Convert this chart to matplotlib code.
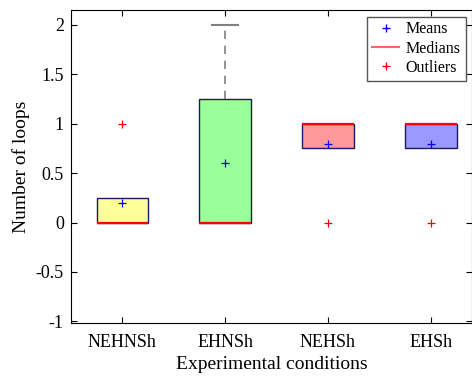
import matplotlib.pyplot as plt
from matplotlib.lines import Line2D

plt.rcParams['font.family'] = ['Liberation Serif', 'DejaVu Serif']

condicoes = ['NEHNSh', 'EHNSh', 'NEHSh', 'EHSh']
q1 = [0, 0, 0.75, 0.75]
q3 = [0.25, 1.25, 1, 1]
medianas = [0, 0, 1, 1]
medias = [0.2, 0.6, 0.8, 0.8]
whis_lo = [0, 0, 0.75, 0.75]
whis_hi = [0.25, 2, 1, 1]
outliers = [[1], [], [0], [0]]
cores = ['#ffff99', '#99ff99', '#ff9999', '#9999ff']

stats = []
for i in range(len(condicoes)):
    stats.append({'label': condicoes[i], 'q1': q1[i], 'q3': q3[i], 'med': medianas[i],
                  'mean': medias[i], 'whislo': whis_lo[i], 'whishi': whis_hi[i],
                  'fliers': outliers[i]})

fig, ax = plt.subplots(figsize=(4.72, 3.76), dpi=100)
fig.subplots_adjust(left=0.15, right=1.0, top=0.973, bottom=0.14)

bp = ax.bxp(stats, widths=0.5, patch_artist=True, showmeans=True,
            boxprops=dict(edgecolor='#1a1a60', linewidth=1.0),
            medianprops=dict(color='red', linewidth=1.6),
            meanprops=dict(marker='+', color='blue', markeredgecolor='blue', markersize=6, markeredgewidth=0.9),
            whiskerprops=dict(color='#808080', linestyle=(0, (5, 4)), linewidth=1.2),
            capprops=dict(color='#808080', linewidth=1.5),
            capwidths=0.25,
            flierprops=dict(marker='+', markeredgecolor='red', markersize=6, markeredgewidth=0.9))
for caixa, cor in zip(bp['boxes'], cores):
    caixa.set_facecolor(cor)

# esconde bigodes de comprimento zero
for i in range(len(condicoes)):
    if whis_hi[i] == q3[i]:
        bp['caps'][2 * i + 1].set_visible(False)
        bp['whiskers'][2 * i + 1].set_visible(False)
    if whis_lo[i] == q1[i]:
        bp['caps'][2 * i].set_visible(False)
        bp['whiskers'][2 * i].set_visible(False)

ax.set_xlim(0.5, 4.4)
ax.set_ylim(-1.02, 2.15)
ax.set_yticks([-1, -0.5, 0, 0.5, 1, 1.5, 2])
ax.set_yticklabels(['-1', '-0.5', '0', '0.5', '1', '1.5', '2'])
ax.tick_params(labelsize=13, direction='in', top=True, right=True, length=4)
ax.tick_params(axis='x', pad=8)
ax.tick_params(axis='y', pad=5)
ax.set_xlabel('Experimental conditions', fontsize=14, labelpad=3)
ax.set_ylabel('Number of loops', fontsize=14)

handles = [Line2D([], [], marker='+', color='blue', linestyle='none', markersize=6),
           Line2D([], [], color='#ff6666', linewidth=1.5),
           Line2D([], [], marker='+', color='red', linestyle='none', markersize=6)]
ax.legend(handles, ['Means', 'Medians', 'Outliers'], loc='upper right', fontsize=11.5,
          fancybox=False, edgecolor='#555555', framealpha=1, handlelength=1.7,
          handletextpad=0.4, borderaxespad=0.4, labelspacing=0.2, borderpad=0.3)

fig.savefig('out.png', dpi=100)
